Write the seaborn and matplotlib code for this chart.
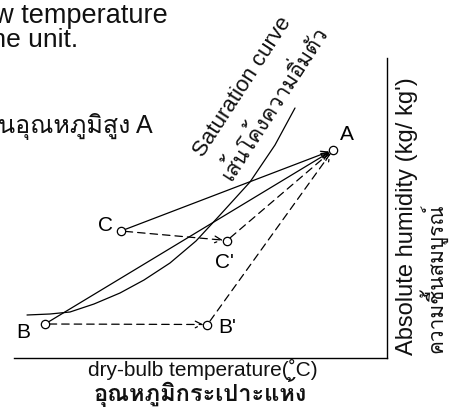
import seaborn as sns
from matplotlib import pyplot as plt
from matplotlib import font_manager
from matplotlib.ft2font import FT2Font

# saturation curve (dry-bulb temperature vs absolute humidity, arbitrary units)
sat_temp = [1.3, 3.6, 5.6, 8.0, 10.6, 13.0, 15.6, 18.2, 20.6, 23.6, 26.1, 28.1]
sat_hum = [4.3, 4.4, 4.6, 5.4, 6.5, 7.8, 9.5, 11.7, 14.3, 17.6, 21.3, 25.0]

# state points
point_names = ['A', 'B', "B'", 'C', "C'"]
point_temp = [31.9, 3.1, 19.35, 10.7, 21.3]
point_hum = [20.8, 3.4, 3.35, 12.7, 11.75]

# process lines (start, end)
solid_paths = [('C', 'A'), ('B', 'A')]
dashed_paths = [('C', "C'"), ('B', "B'"), ("C'", 'A'), ("B'", 'A')]

top_lines = ['low temperature', 'the unit.']
top_thai = 'นอุณหภูมิสูง A'
x_label = 'dry-bulb temperature(˚C)'
x_label_th = 'อุณหภูมิกระเปาะแห้ง'
y_label = "Absolute humidity (kg/ kg')"
y_label_th = 'ความชื้นสมบูรณ์'
curve_label = 'Saturation curve'
curve_label_th = 'เส้นโค้งความอิ่มตัว'

# look for an installed font that has Thai letters
thai_font = None
for f in font_manager.fontManager.ttflist:
    try:
        if 0x0E2D in FT2Font(f.fname).get_charmap():
            thai_font = f.name
            break
    except Exception:
        pass

sns.set_theme(style='white')
fams = ['Liberation Sans'] + ([thai_font] if thai_font else []) + ['DejaVu Sans']
plt.rcParams['font.family'] = fams

W, H = 456, 420
fig = plt.figure(figsize=(W / 100, H / 100), dpi=100)
ax = fig.add_axes([14 / W, 62 / H, 373 / W, 300 / H])
ax.set_xlim(0, 37.3)
ax.set_ylim(0, 30)
ax.set_xticks([])
ax.set_yticks([])
ax.spines[['top', 'left']].set_visible(False)
for s in ['bottom', 'right']:
    ax.spines[s].set_color('black')
    ax.spines[s].set_linewidth(1.0)

sns.lineplot(x=sat_temp, y=sat_hum, sort=False, estimator=None, color='black', lw=0.9, ax=ax)

pos = {n: (x, y) for n, x, y in zip(point_names, point_temp, point_hum)}
for a, b in solid_paths:
    ax.annotate('', xy=pos[b], xytext=pos[a],
                arrowprops=dict(arrowstyle='->', color='black', lw=0.9, shrinkA=3, shrinkB=3))
for a, b in dashed_paths:
    ax.annotate('', xy=pos[b], xytext=pos[a],
                arrowprops=dict(arrowstyle='->', color='black', lw=0.9, shrinkA=3, shrinkB=3,
                                linestyle=(0, (6, 4))))

sns.scatterplot(x=point_temp, y=point_hum, s=36, color='white', edgecolor='black',
                linewidth=0.9, zorder=5, ax=ax)

offsets = {'A': (10, 11), 'B': (-16, -6), "B'": (14, -2), 'C': (-11.5, 4), "C'": (-1.5, -16)}
for n in point_names:
    ax.annotate(n, xy=pos[n], xytext=offsets[n], textcoords='offset points',
                ha='center', va='center', fontsize=15, color='black')


def px(x, y):
    return x / W, 1 - y / H


fig.text(*px(168, 23), top_lines[0], ha='right', va='baseline', fontsize=19.5, color='#111111')
fig.text(*px(78, 47), top_lines[1], ha='right', va='baseline', fontsize=19, color='#111111')
fig.text(*px(153, 133), top_thai, ha='right', va='baseline', fontsize=18, color='#111111')

fig.text(*px(243, 87), curve_label, rotation=57, rotation_mode='anchor', ha='center', va='center',
         fontsize=16, color='#111111')
fig.text(*px(274, 104), curve_label_th, rotation=57, rotation_mode='anchor', ha='center', va='center',
         fontsize=15.5, color='#111111')

fig.text(*px(407, 355), y_label, rotation=90, ha='center', va='bottom', fontsize=17, color='#111111')
fig.text(*px(433, 353), y_label_th, rotation=90, ha='center', va='bottom', fontsize=15, color='#111111')

fig.text(*px(203, 369), x_label, ha='center', va='center', fontsize=15, color='#111111')
fig.text(*px(200, 392), x_label_th, ha='center', va='center', fontsize=17, fontweight='bold',
         color='#111111')

fig.savefig('out.png', dpi=100)
